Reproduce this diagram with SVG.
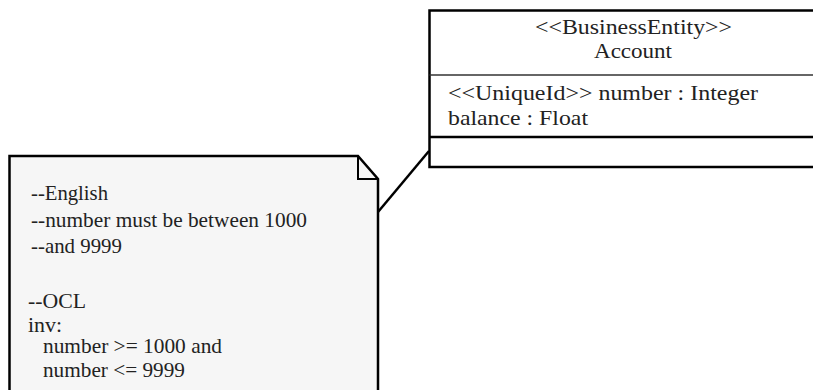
<svg xmlns="http://www.w3.org/2000/svg" width="813" height="390" viewBox="0 0 813 390">
<style>
.t{font-family:"Liberation Serif","Times New Roman",serif;fill:#222}
.c{font-size:22px}
.n{font-size:21px}
.thick{fill:none;stroke:#000;stroke-width:2.5}
.thin{fill:none;stroke:#333;stroke-width:1.5}
</style>
<rect width="813" height="390" fill="#fff"/>
<g id="connectors">
<line x1="378" y1="212" x2="429" y2="151" stroke="#000" stroke-width="2.5"/>
</g>
<g id="note">
<path d="M9.5 395 V156 H358 L378 179 V395" fill="#f6f6f6" stroke="#000" stroke-width="2.5"/>
<path d="M358 156 V179 H378" fill="none" stroke="#000" stroke-width="2"/>
<text class="t n" x="31" y="200" textLength="77" lengthAdjust="spacingAndGlyphs">--English</text>
<text class="t n" x="31" y="227" textLength="276" lengthAdjust="spacingAndGlyphs">--number must be between 1000</text>
<text class="t n" x="31" y="253" textLength="91" lengthAdjust="spacingAndGlyphs">--and 9999</text>
<text class="t n" x="28" y="308" textLength="58" lengthAdjust="spacingAndGlyphs">--OCL</text>
<text class="t n" x="28" y="332" textLength="34" lengthAdjust="spacingAndGlyphs">inv:</text>
<text class="t n" x="43" y="353" textLength="179" lengthAdjust="spacingAndGlyphs">number &gt;= 1000 and</text>
<text class="t n" x="43" y="377" textLength="142" lengthAdjust="spacingAndGlyphs">number &lt;= 9999</text>
</g>
<g id="account">
<rect x="429.5" y="10.5" width="400" height="156.5" fill="#fff" stroke="#000" stroke-width="2.5"/>
<line class="thin" x1="429.5" y1="75" x2="813" y2="75"/>
<line class="thick" x1="429.5" y1="137" x2="813" y2="137"/>
<text class="t c" x="535" y="34" textLength="197" lengthAdjust="spacingAndGlyphs">&lt;&lt;BusinessEntity&gt;&gt;</text>
<text class="t c" x="594" y="58" textLength="78" lengthAdjust="spacingAndGlyphs">Account</text>
<text class="t c" x="448" y="100" textLength="310" lengthAdjust="spacingAndGlyphs">&lt;&lt;UniqueId&gt;&gt; number : Integer</text>
<text class="t c" x="448" y="125" textLength="140" lengthAdjust="spacingAndGlyphs">balance : Float</text>
</g>
</svg>
